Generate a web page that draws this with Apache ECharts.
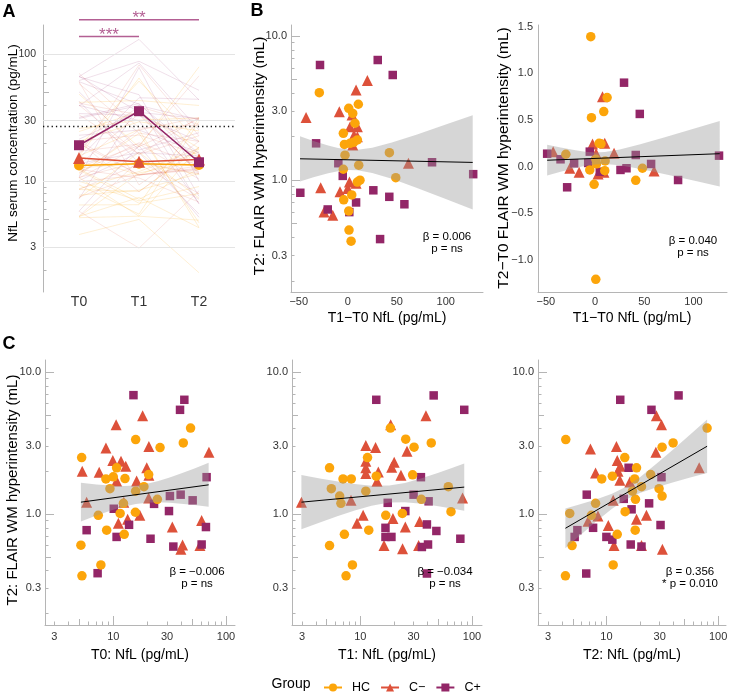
<!DOCTYPE html>
<html><head><meta charset="utf-8">
<script src="https://cdn.jsdelivr.net/npm/echarts@6/dist/echarts.min.js"></script>
<style>html,body{margin:0;padding:0;background:#fff}#c{width:731px;height:693px}</style>
</head><body><div id="c"></div><script>
// ---------------- data ----------------
const groups = ['HC', 'C\u2212', 'C+'];
const timeLabels = ['T0', 'T1', 'T2'];
// Panel A: group summary (pg/mL)
const meanHC = [13.3, 13.7, 13.4];
const meanCm = [15.2, 14.2, 14.8];
const meanCp = [19.2, 35.6, 14.1];
const nflCutoff = 26.8;
const gridValsA = [3, 10, 30, 100];
const sigLevels = [137.8, 187];
const sigEnds = [1, 2];
const sigText = ['***', '**'];
// Panel A: individual trajectories (T0, T1, T2)
const hcT0 = [48.5,15.8,41.8,26,5.24,10.7,20.6,12.7,10,8.6,18.7,9.34,15.8,24.6,12.3,15.7,11.5,7.36,8.73,12.5,5.16,7.76,5.27,3.8,6.5];
const hcT1 = [18.6,25.5,43.2,30.3,11.6,5.3,29.4,13.9,7,8.3,61.4,5.5,11.2,35.2,6.7,64.9,23.8,16.9,11.9,7.2,5.3,8.5,7.45,5,6.53];
const hcT2 = [79.6,4.33,39.5,31.5,14.6,18.6,24.9,11.3,9.08,17.9,20.6,29.6,17.1,18.2,8,14.7,4.7,7.35,18.1,12.5,4.93,11.5,4.3,1.9,31.5];
const cmT0 = [18.2,10.6,20.7,8.6,70.6,9.9,11.7,12.9,19.8,5.3,7.5,20.7,10.7,16.1,20.6,5.8,12.4,17.2,13.4,60.8,11.1,33.4,41.2,58.7,39.8];
const cmT1 = [38.7,18.7,11.2,13.7,26.2,11.2,20.1,19.1,11.2,14.5,11.2,23.1,14.1,82.4,8.25,2.97,10.6,19.6,34,9.34,25.3,16.3,33.3,23.9,16.3];
const cmT2 = [28,31.1,12.3,7.2,27.7,12.5,13.3,67.6,12.7,8,13.2,16.2,11.5,22.8,18.6,8.4,6.85,10.4,11.7,20.6,31.7,22.8,11.7,20.6,31.7];
const cpT0 = [15.1,42.7,39.1,67.3,39.6,31.8,50.6,23,10.1,31.2,66.4,13.8,5.8,10.7,21.4,60.8,34.1,7.26,66.7,62];
const cpT1 = [45.4,13.9,85.3,34.9,30,40.9,17.6,25.3,16.8,39.5,48,16.8,19,78.7,35.6,40.4,33,39.5,131,88];
const cpT2 = [44.2,13.3,25.3,31.1,6.67,14.3,24.1,16.8,15.8,30.5,7.6,5.5,5.2,10,11.3,16.5,20.6,6.6,43.6,52];

// Panel B left: [T1-T0 NfL, T2 FLAIR]
const blHC = [[-29,4.04],[1,3.15],[10.8,3.36],[5.1,2.9],[7.4,2.48],[-4.5,2.11],[-3.4,1.77],[2.3,1.80],[9.8,1.90],[6,1.83],[-2.8,1.49],[11.2,1.27],[-4.5,1.19],[42.5,1.55],[49,1.04],[12.5,1.0],[9.8,0.97],[4.1,0.79],[-4.1,0.73],[1,0.61],[1.3,0.45],[3.4,0.377]];
const blCm = [[-42.5,2.72],[-8.6,2.98],[8.5,4.22],[20,4.9],[-27.6,0.885],[-24.2,0.60],[-15.3,0.57],[-7.9,0.83],[0,0.875],[1.7,0.97],[8.5,0.95],[61.9,1.31],[2.4,2.35],[6.4,2.05],[9.8,2.35],[4.4,2.83],[9.8,2.0],[5.1,1.75]];
const blCp = [[-28.3,6.29],[30.6,6.81],[45.9,5.36],[-32.3,1.80],[-9.6,1.31],[-5.1,1.07],[-48.4,0.817],[-20.4,0.626],[1.6,0.60],[8.5,0.70],[26.1,0.85],[42.4,0.766],[57.8,0.68],[33,0.39],[86,1.33],[128,1.10]];
const blBand = [[-48.7,0.979,2.018],[-35,1.048,1.870],[-20,1.117,1.738],[-10,1.154,1.671],[0,1.175,1.631],[10,1.171,1.626],[25,1.122,1.679],[45,1.021,1.822],[70,0.886,2.065],[100,0.740,2.427],[127.5,0.625,2.818]];
const blFit = [[-48.7,1.406],[127.5,1.327]];
// Panel B right: [T1-T0 NfL, T2-T0 FLAIR]
const brHC = [[-4.4,1.393],[12.2,0.74],[8.8,0.59],[-3.7,0.525],[4.1,0.25],[6,0.245],[-29.7,0.133],[0.7,0.079],[10.2,0.061],[-5.4,-0.035],[9.8,-0.043],[48.1,-0.017],[41.3,-0.146],[-1,-0.189],[0.7,-1.207],[1.5,0.03]];
const brCm = [[-42.6,0.161],[7.5,0.75],[9.8,0.25],[-2.6,0.243],[19.3,0.143],[-25.7,-0.017],[-16.2,-0.06],[59.9,-0.046],[3,-0.078],[1,0.14],[9,-0.06]];
const brCp = [[-48.7,0.139],[29.4,0.90],[45.4,0.565],[-28.4,-0.221],[-35.1,0.079],[-21.3,0.036],[-5.4,0.161],[25.8,-0.035],[31.9,-0.017],[41.3,0.125],[56.9,0.029],[84.3,-0.143],[125.9,0.118],[4.8,-0.054],[-7,0.04]];
const brBand = [[-48.7,-0.096,0.234],[-35,-0.0552,0.2042],[-20,-0.0141,0.1751],[-10,0.0089,0.1601],[0,0.0245,0.1525],[10,0.0285,0.1565],[25,0.014,0.183],[45,-0.0232,0.2362],[70,-0.0785,0.3115],[100,-0.1487,0.4057],[126.6,-0.212,0.49]];
const brFit = [[-48.7,0.069],[126.6,0.139]];
// Panel C: [NfL at Tx, T2 FLAIR]
const c0HC = [[48.5,4.04],[15.8,3.35],[41.8,3.17],[26,2.94],[5.24,2.5],[10.7,2.12],[10,1.83],[8.6,1.77],[12.7,1.78],[20.6,1.9],[9.34,1.51],[15.8,1.45],[18.7,1.56],[24.6,1.27],[12.3,1.19],[11.5,1.01],[15.7,1.03],[7.36,0.98],[8.73,0.77],[12.5,0.72],[5.16,0.603],[7.76,0.438],[5.27,0.367]];
const c0Cm = [[18.2,4.93],[10.6,4.27],[20.7,3.0],[8.6,2.92],[70.6,2.73],[9.9,2.39],[11.7,2.36],[12.9,2.17],[19.8,2.12],[5.3,2.0],[7.5,1.97],[20.7,1.88],[10.7,1.71],[16.1,1.71],[20.6,1.30],[5.8,1.21],[12.4,1.21],[17.2,0.98],[13.4,0.92],[60.8,0.90],[11.1,0.86],[33.4,0.81],[41.2,0.605],[58.7,0.60],[39.8,0.565]];
const c0Cp = [[15.1,6.89],[42.7,6.39],[39.1,5.43],[67.3,1.82],[31.8,1.34],[39.6,1.37],[50.6,1.25],[10.1,1.09],[31.2,1.05],[23,1.18],[5.8,0.77],[13.8,0.84],[10.7,0.69],[21.4,0.67],[34.1,0.59],[60.8,0.61],[66.4,0.81],[7.26,0.383]];
const c0Band = [[5.16,0.887,1.660],[7.08,0.976,1.616],[10,1.073,1.582],[12.59,1.132,1.576],[15.85,1.178,1.592],[19.95,1.203,1.637],[25.12,1.209,1.711],[31.62,1.201,1.811],[39.81,1.184,1.931],[52.48,1.157,2.097],[70.15,1.125,2.296]];
const c0Fit = [[5.16,1.213],[70.2,1.607]];
const c1HC = [[18.6,4.04],[25.5,3.37],[43.2,3.17],[30.3,2.96],[11.6,2.5],[5.3,2.12],[7,1.77],[8.3,1.77],[13.9,1.85],[29.4,1.89],[5.5,1.51],[6.53,1.34],[6.7,1.19],[11.2,1.45],[61.4,1.56],[35.2,1.27],[16.9,0.98],[23.8,1.01],[64.9,1.04],[11.9,0.77],[7.2,0.72],[5.3,0.60],[8.5,0.438],[7.45,0.367]];
const c1Cm = [[38.7,4.93],[18.7,4.27],[11.2,3.04],[13.7,2.94],[26.2,2.77],[11.2,2.36],[20.1,2.32],[19.1,2.14],[11.2,2.12],[14.5,1.98],[11.2,1.93],[23.1,1.88],[14.1,1.70],[2.97,1.21],[8.25,1.25],[82.4,1.30],[10.6,0.98],[19.6,0.93],[9.34,0.86],[34,0.887],[25.3,0.81],[16.3,0.60],[23.9,0.57],[33.3,0.60]];
const c1Cp = [[13.9,6.39],[45.4,6.86],[85.3,5.43],[34.9,1.82],[30,1.37],[40.9,1.23],[17.6,1.2],[25.3,1.05],[16.8,0.80],[39.5,0.845],[48,0.76],[16.8,0.69],[19,0.69],[35.6,0.586],[40.4,0.61],[78.7,0.67],[39.5,0.381]];
const c1Band = [[2.965,0.782,1.884],[4.467,0.880,1.777],[6.31,0.969,1.696],[8.913,1.061,1.628],[12.59,1.146,1.585],[18.16,1.206,1.589],[25.12,1.211,1.658],[35.48,1.181,1.788],[50.12,1.136,1.955],[66.07,1.095,2.111],[85.31,1.057,2.270]];
const c1Fit = [[2.97,1.213],[85.3,1.549]];
const c2HC = [[4.33,3.35],[79.6,4.04],[39.5,3.17],[31.5,2.96],[14.6,2.5],[18.6,2.12],[11.3,1.85],[9.08,1.77],[17.9,1.77],[24.9,1.9],[20.6,1.56],[17.1,1.45],[29.6,1.51],[31.5,1.34],[18.2,1.27],[8,1.19],[4.7,1.01],[7.35,0.98],[14.7,1.04],[18.1,0.77],[12.5,0.72],[4.93,0.60],[11.5,0.438],[4.3,0.367]];
const c2Cm = [[28,4.93],[31.1,4.27],[7.2,2.88],[12.3,3.0],[27.7,2.73],[12.5,2.39],[13.3,2.17],[8,1.95],[12.7,2.0],[13.2,1.73],[16.2,1.68],[67.6,2.12],[11.5,1.25],[6.85,0.89],[8.4,0.97],[10.4,0.83],[22.8,0.98],[18.6,0.92],[11.7,0.60],[20.6,0.60],[31.7,0.565]];
const c2Cp = [[13.3,6.39],[44.2,6.86],[25.3,5.43],[15.8,2.12],[31.1,1.82],[6.67,1.37],[14.3,1.28],[24.1,1.19],[16.8,1.08],[30.5,0.837],[5.5,0.77],[7.6,0.80],[5.2,0.69],[10,0.69],[11.3,0.66],[16.5,0.61],[20.6,0.59],[6.6,0.381]];
const c2Band = [[4.295,0.575,1.096],[5.623,0.693,1.165],[7.943,0.875,1.264],[11.22,1.089,1.391],[14.69,1.255,1.543],[19.95,1.408,1.819],[28.18,1.546,2.270],[39.81,1.677,2.867],[56.23,1.811,3.639],[79.62,1.950,4.634]];
const c2Fit = [[4.3,0.794],[79.6,3.006]];
// tick labels
const ticksNfLA = [3, 10, 30, 100];
const ticksFlair = [0.3, 1, 3, 10];
const ticksNfLC = [3, 10, 30, 100];
const ticksDiff = [-50, 0, 50, 100];
const ticksDFlair = [-1, -0.5, 0, 0.5, 1, 1.5];
const statsText = [['\u03b2 = 0.006', 'p = ns'], ['\u03b2 = 0.040', 'p = ns'], ['\u03b2 = \u22120.006', 'p = ns'], ['\u03b2 = \u22120.034', 'p = ns'], ['\u03b2 = 0.356', '* p = 0.010']];

// ---------------- styling ----------------
const FONT = '"Liberation Sans", Arial, Helvetica, sans-serif';
const COL = ['#FCA50A', '#DD513A', '#932667'];
const SPAG = ['rgba(252,165,10,0.2)', 'rgba(221,81,58,0.16)', 'rgba(147,38,103,0.16)'];
const SYM = ['circle', 'triangle', 'rect'];
const SSZ = [9.5, 11, 8.5];
const AX = '#b5b5b5';
const LAB = '#333';
const SIG = '#b35f93';
const BAND = 'rgba(153,153,153,0.4)';
const L = Math.log10;
const minus = s => String(s).replace('-', '\u2212');

const grids = [
  {left: 43, top: 25, width: 192, height: 267},
  {left: 291, top: 25, width: 192, height: 267},
  {left: 538, top: 25, width: 189, height: 267},
  {left: 45, top: 360, width: 190, height: 265},
  {left: 292, top: 360, width: 190, height: 265},
  {left: 538, top: 360, width: 188, height: 265}
];
const xAxes = [], yAxes = [], series = [];

function logAxes(kind, gi, min, max, labelVals, fmt, fontSize, margin) {
  const pow = [], mid = [], minor = [];
  for (let e = -2; e <= 3; e++) for (let m = 1; m <= 9; m++) {
    const lv = L(m * Math.pow(10, e));
    if (lv < min - 1e-9 || lv > max + 1e-9) continue;
    (m === 1 ? pow : m === 5 ? mid : minor).push(lv);
  }
  const base = {type: 'value', gridIndex: gi, min, max, position: kind === 'x' ? 'bottom' : 'left', offset: 0, splitLine: {show: false}};
  const mk = (vals, len) => ({...base, axisLine: {show: false, onZero: false}, axisLabel: {show: false},
    axisTick: {show: true, inside: true, length: len, customValues: vals, lineStyle: {color: AX, width: 1}}});
  const main = {...base,
    axisLine: {show: true, onZero: false, lineStyle: {color: AX, width: 1}},
    axisTick: {show: true, inside: true, length: 9, customValues: pow, lineStyle: {color: AX, width: 1}},
    axisLabel: {customValues: labelVals.map(L), formatter: v => fmt(Math.pow(10, v)), color: LAB, fontSize, fontFamily: FONT, margin}};
  const list = kind === 'x' ? xAxes : yAxes;
  const idx = list.length;
  list.push(main, mk(mid, 6), mk(minor, 3.5));
  return idx;
}
function linAxis(kind, gi, min, max, labelVals, fmt, fontSize, margin) {
  const list = kind === 'x' ? xAxes : yAxes;
  list.push({type: 'value', gridIndex: gi, min, max, position: kind === 'x' ? 'bottom' : 'left', offset: 0,
    splitLine: {show: false}, axisLine: {show: true, onZero: false, lineStyle: {color: AX, width: 1}}, axisTick: {show: false},
    axisLabel: {customValues: labelVals, formatter: fmt, color: LAB, fontSize, fontFamily: FONT, margin}});
  return list.length - 1;
}
function scatter(xi, yi, gi, pts, xlog, ylog) {
  series.push({type: 'scatter', xAxisIndex: xi, yAxisIndex: yi, symbol: SYM[gi], symbolSize: SSZ[gi], silent: true, z: 2,
    itemStyle: {color: COL[gi], opacity: 1},
    data: pts.map(p => [xlog ? L(p[0]) : p[0], ylog ? L(p[1]) : p[1]])});
}
function fitBand(xi, yi, band, fit, xlog, ylog) {
  const tx = v => xlog ? L(v) : v, ty = v => ylog ? L(v) : v;
  series.push({type: 'custom', xAxisIndex: xi, yAxisIndex: yi, silent: true, z: 3,
    data: [[tx(band[0][0]), ty(band[0][1])]],
    renderItem: (params, api) => {
      const up = band.map(p => api.coord([tx(p[0]), ty(p[2])]));
      const lo = band.slice().reverse().map(p => api.coord([tx(p[0]), ty(p[1])]));
      return {type: 'polygon', shape: {points: up.concat(lo)}, style: {fill: BAND}};
    }});
  series.push({type: 'line', xAxisIndex: xi, yAxisIndex: yi, symbol: 'none', silent: true, z: 4,
    lineStyle: {color: '#000', width: 1}, data: fit.map(p => [tx(p[0]), ty(p[1])])});
}

// ---------------- Panel A ----------------
const axA = linAxis('x', 0, -0.6, 2.6, [0, 1, 2], v => timeLabels[Math.round(v)], 14, 3);
xAxes[axA].axisLine.show = false;
const ayA = logAxes('y', 0, L(1.34), L(170), ticksNfLA, v => String(Math.round(v)), 10.5, 7);
series.push({type: 'line', xAxisIndex: axA, yAxisIndex: ayA, data: [], silent: true, z: 0,
  markLine: {silent: true, symbol: 'none', animation: false, label: {show: false},
    data: gridValsA.map(v => ({yAxis: L(v), lineStyle: {color: '#e4e4e4', width: 1, type: 'solid'}}))
      .concat([{yAxis: L(nflCutoff), lineStyle: {color: '#111', width: 1.3, type: [1.3, 3]}}])}});
[[hcT0, hcT1, hcT2], [cmT0, cmT1, cmT2], [cpT0, cpT1, cpT2]].forEach((arrs, gi) => {
  arrs[0].forEach((v, k) => {
    series.push({type: 'line', xAxisIndex: axA, yAxisIndex: ayA, symbol: 'none', silent: true, z: 1,
      lineStyle: {color: SPAG[gi], width: 0.9}, data: [[0, L(arrs[0][k])], [1, L(arrs[1][k])], [2, L(arrs[2][k])]]});
  });
});
[meanHC, meanCm, meanCp].forEach((m, gi) => {
  series.push({name: groups[gi], type: 'line', xAxisIndex: axA, yAxisIndex: ayA, symbol: SYM[gi], symbolSize: [10, 12, 10][gi],
    z: 5 + gi, silent: true, itemStyle: {color: COL[gi]}, lineStyle: {color: COL[gi], width: 1.5},
    data: m.map((v, k) => [k, L(v)])});
});
sigLevels.forEach((lv, i) => {
  series.push({type: 'line', xAxisIndex: axA, yAxisIndex: ayA, clip: false, silent: true, z: 8,
    symbol: 'circle', symbolSize: 0.01, showAllSymbol: true, itemStyle: {color: SIG},
    lineStyle: {color: SIG, width: 1.5},
    data: [[0, L(lv)], {value: [sigEnds[i] / 2, L(lv)],
      label: {show: true, position: 'top', distance: -7, formatter: sigText[i], color: SIG, fontSize: 17, fontFamily: FONT}},
      [sigEnds[i], L(lv)]]});
});

// ---------------- Panel B ----------------
const axBL = linAxis('x', 1, -57.9, 138, ticksDiff, v => minus(v), 11, 4);
const ayBL = logAxes('y', 1, -0.776, 1.076, ticksFlair, v => v.toFixed(1), 11, 4);
[blCm, blCp, blHC].forEach((d, k) => scatter(axBL, ayBL, [1, 2, 0][k], d, false, true));
fitBand(axBL, ayBL, blBand, blFit, false, true);

const axBR = linAxis('x', 2, -58, 134, ticksDiff, v => minus(v), 11, 4);
const ayBR = linAxis('y', 2, -1.343, 1.518, ticksDFlair, v => minus(v.toFixed(1)), 11, 5);
[brCm, brCp, brHC].forEach((d, k) => scatter(axBR, ayBR, [1, 2, 0][k], d, false, false));
fitBand(axBR, ayBR, brBand, brFit, false, false);

// ---------------- Panel C ----------------
const cData = [[c0HC, c0Cm, c0Cp, c0Band, c0Fit], [c1HC, c1Cm, c1Cp, c1Band, c1Fit], [c2HC, c2Cm, c2Cp, c2Band, c2Fit]];
const cXR = [[0.394, 2.08], [0.388, 2.09], [0.388, 2.07]];
cData.forEach((set, j) => {
  const gi = 3 + j;
  const xi = logAxes('x', gi, cXR[j][0], cXR[j][1], ticksNfLC, v => String(Math.round(v)), 11, 6);
  const yi = logAxes('y', gi, -0.782, 1.086, ticksFlair, v => v.toFixed(1), 11, 4);
  [set[1], set[2], set[0]].forEach((d, k) => scatter(xi, yi, [1, 2, 0][k], d, true, true));
  fitBand(xi, yi, set[3], set[4], true, true);
});

// ---------------- text ----------------
function txt(text, x, y, size, opts) {
  return Object.assign({type: 'text', x, y, silent: true, z: 100,
    style: {text, fontSize: size, fontFamily: FONT, fill: '#000', align: 'center', verticalAlign: 'middle'}}, opts || {});
}
function bold(text, x, y) {
  return {type: 'text', x, y, silent: true, z: 100,
    style: {text, fontSize: 18, fontWeight: 'bold', fontFamily: FONT, fill: '#000', align: 'center', verticalAlign: 'middle'}};
}
const rot = Math.PI / 2;
const graphics = [
  bold('A', 9, 12), bold('B', 257, 11), bold('C', 9, 344),
  txt('NfL serum concentration (pg/mL)', 13, 143, 13.5, {rotation: rot}),
  txt('T2: FLAIR WM hyperintensity (mL)', 260, 156, 15.5, {rotation: rot}),
  txt('T2\u2212T0 FLAIR WM hyperintensity (mL)', 504, 158, 15.5, {rotation: rot}),
  txt('T2: FLAIR WM hyperintensity (mL)', 13, 490, 15, {rotation: rot}),
  txt('T1\u2212T0 NfL (pg/mL)', 387, 318, 14),
  txt('T1\u2212T0 NfL (pg/mL)', 632, 318, 14),
  txt('T0: NfL (pg/mL)', 140, 655, 14),
  txt('T1: NfL (pg/mL)', 387, 655, 14),
  txt('T2: NfL (pg/mL)', 632, 655, 14),
  txt('Group', 291, 684, 14)
];
const statPos = [[447, 237], [693, 241], [197, 572], [445, 572], [690, 572]];
statsText.forEach((s, i) => {
  graphics.push(txt(s[0], statPos[i][0], statPos[i][1], 11.5));
  graphics.push(txt(s[1], statPos[i][0], statPos[i][1] + 11.5, 11.5));
});

const chart = echarts.init(document.getElementById('c'), null, {renderer: 'canvas'});
chart.setOption({
  animation: false,
  backgroundColor: '#fff',
  grid: grids,
  xAxis: xAxes,
  yAxis: yAxes,
  series,
  legend: {data: groups, left: 318, top: 676, itemWidth: 18, itemHeight: 10, itemGap: 10, selectedMode: false,
    textStyle: {fontSize: 12.5, fontFamily: FONT, color: '#000', padding: [0, 0, 0, 5]}},
  graphic: graphics
});
</script></body></html>
